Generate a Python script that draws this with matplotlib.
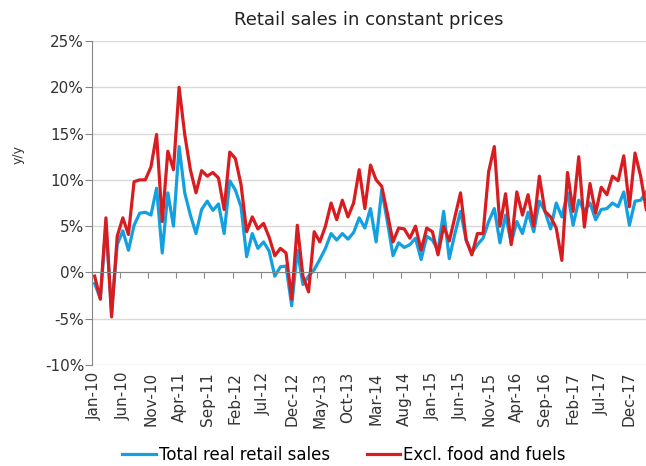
import matplotlib
matplotlib.use("Agg")
from matplotlib import pyplot as plt
from matplotlib.ticker import FuncFormatter
import numpy as np

# monthly, Jan-10 .. Mar-18, y/y %
month_names = ["Jan", "Feb", "Mar", "Apr", "May", "Jun",
               "Jul", "Aug", "Sep", "Oct", "Nov", "Dec"]

total_real = [
    -1.2, -2.8, 5.2, -4.3, 3.0, 4.5, 2.4, 5.1, 6.4, 6.5, 6.2, 9.1,
    2.1, 8.6, 5.0, 13.6, 8.6, 6.2, 4.2, 6.8, 7.7, 6.7, 7.4, 4.2,
    9.9, 8.9, 7.1, 1.7, 4.2, 2.6, 3.3, 2.3, -0.4, 0.6, 0.7, -3.6,
    2.4, -1.3, -0.4, 0.3, 1.4, 2.6, 4.2, 3.5, 4.2, 3.6, 4.3, 5.9,
    4.8, 6.9, 3.3, 8.9, 5.5, 1.8, 3.2, 2.7, 3.0, 3.7, 1.4, 3.9,
    3.5, 2.4, 6.6, 1.5, 4.2, 6.6, 3.5, 2.1, 3.0, 3.7, 5.5, 6.9,
    3.2, 6.2, 3.2, 5.5, 4.2, 6.5, 4.4, 7.7, 6.6, 4.7, 7.5, 6.0,
    8.6, 5.1, 7.8, 6.6, 7.5, 5.7, 6.8, 6.9, 7.5, 7.1, 8.7, 5.1,
    7.7, 7.8, 8.7,
]

excl_food_fuels = [
    -0.4, -2.9, 5.9, -4.8, 3.9, 5.9, 4.1, 9.8, 10.0, 10.0, 11.4, 14.9,
    5.5, 13.1, 11.1, 20.0, 14.9, 11.1, 8.6, 11.0, 10.4, 10.8, 10.2, 6.8,
    13.0, 12.3, 9.5, 4.4, 6.0, 4.7, 5.3, 3.8, 1.8, 2.6, 2.1, -2.9,
    5.1, -0.4, -2.1, 4.4, 3.3, 5.0, 7.5, 5.7, 7.8, 6.0, 7.5, 11.1,
    6.9, 11.6, 10.0, 9.3, 6.4, 3.3, 4.8, 4.7, 3.7, 5.0, 2.4, 4.8,
    4.4, 1.9, 5.0, 3.4, 6.0, 8.6, 3.5, 1.9, 4.2, 4.2, 10.9, 13.6,
    5.0, 8.5, 3.0, 8.7, 6.2, 8.4, 5.0, 10.4, 6.6, 6.0, 4.8, 1.3,
    10.8, 6.6, 12.5, 4.9, 9.6, 6.4, 9.2, 8.4, 10.4, 9.9, 12.6, 7.1,
    12.9, 10.4, 6.8,
]

n = len(total_real)
labels = ["%s-%02d" % (month_names[i % 12], 10 + i // 12) for i in range(n)]

BLUE = "#12a0e0"
RED = "#d91c20"
AXIS = "#868686"

fig = plt.figure(figsize=(6.46, 4.66), dpi=100)
ax = fig.add_axes([0.1422, 0.2167, 1 - 0.1422, 0.6953])

x = np.arange(n)
ax.plot(x, total_real, color=BLUE, lw=2.3, label="Total real retail sales")
ax.plot(x, excl_food_fuels, color=RED, lw=2.3, label="Excl. food and fuels")

ax.set_xlim(-0.5, 97.95)
ax.set_ylim(-10, 25)
ax.set_yticks(range(-10, 30, 5))
ax.yaxis.set_major_formatter(FuncFormatter(lambda v, p: "%d%%" % v))
ax.yaxis.grid(True, color="#d9d9d9", lw=1)
ax.set_axisbelow(True)
ax.tick_params(axis="y", direction="out", length=5, color=AXIS,
               labelsize=11, labelcolor="#333333", pad=0.5)

for s in ["top", "right"]:
    ax.spines[s].set_visible(False)
ax.spines["left"].set_color(AXIS)
ax.spines["bottom"].set_color(AXIS)
ax.spines["bottom"].set_position(("data", 0))

# tick marks between categories on the zero line
ax.set_xticks(np.arange(4.5, n, 5))
ax.set_xticklabels([])
ax.tick_params(axis="x", direction="out", length=4, color=AXIS)

# category labels at the bottom of the plot
sec = ax.secondary_xaxis(0.0)
sec.set_xticks(x[::5], labels[::5], rotation=90)
sec.tick_params(length=0, pad=5, labelsize=11, labelcolor="#333333")
sec.spines["bottom"].set_visible(False)

fig.text(369 / 646, 1 - 20 / 466, "Retail sales in constant prices",
         ha="center", va="center", fontsize=13, color="#222222")
fig.text(18 / 646, 1 - 155 / 466, "y/y", rotation=90,
         ha="center", va="center", fontsize=9, color="#333333")

fig.legend(loc="center", bbox_to_anchor=(344 / 646, 1 - 455 / 466), ncol=2,
           frameon=False, fontsize=12, handlelength=2.0, handletextpad=0.2,
           columnspacing=2.2)

fig.savefig("out.png", dpi=100)
